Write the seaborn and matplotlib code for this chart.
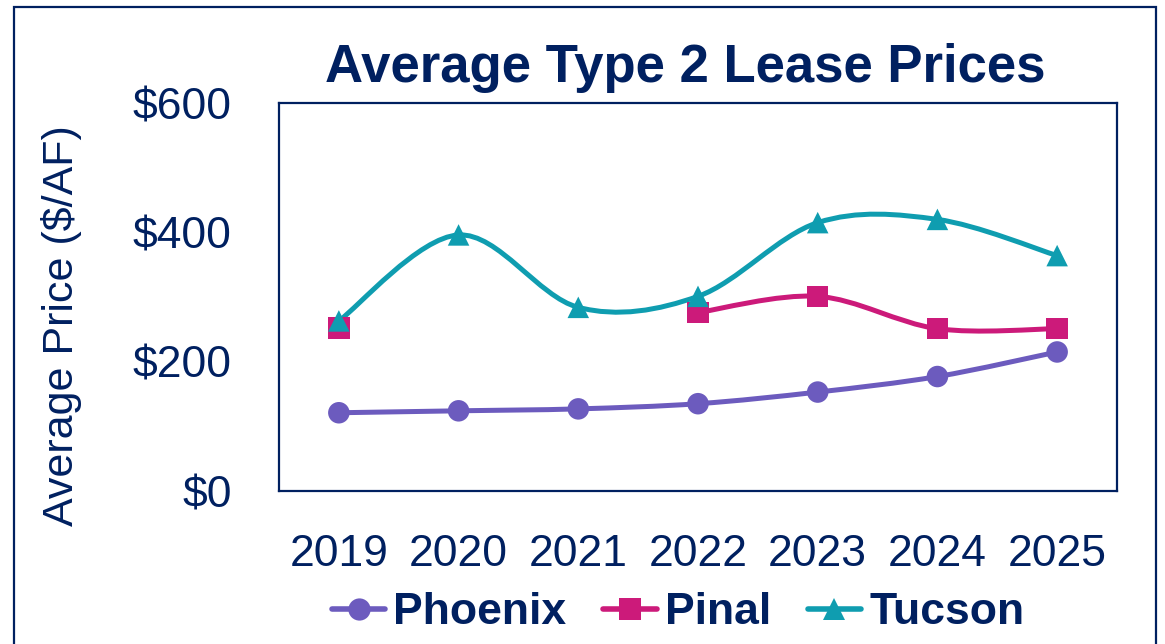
import numpy as np
import pandas as pd
import matplotlib
matplotlib.use("Agg")
import matplotlib.pyplot as plt
from matplotlib.path import Path
from matplotlib.patches import PathPatch, Rectangle
from matplotlib.lines import Line2D
import seaborn as sns

# data
years = [2019, 2020, 2021, 2022, 2023, 2024, 2025]
phoenix = [121, 124, 127, 135, 153, 177, 215]
pinal = [252, np.nan, np.nan, 276, 301, 251, 251]
tucson = [263, 396, 284, 301, 415, 420, 364]

regions = ["Phoenix", "Pinal", "Tucson"]
colors = {"Phoenix": "#6C5BBE", "Pinal": "#CC1A7A", "Tucson": "#0F9DB0"}
markers = {"Phoenix": "o", "Pinal": "s", "Tucson": "^"}
navy = "#002060"

df = pd.DataFrame({"Year": years, "Phoenix": phoenix, "Pinal": pinal, "Tucson": tucson})
long = df.melt(id_vars="Year", var_name="Region", value_name="Price").dropna()

sns.set_theme(style="white")
plt.rcParams["font.family"] = ["Liberation Sans", "DejaVu Sans"]

W, H = 1165, 644
fig = plt.figure(figsize=(W / 100, H / 100), dpi=100)
ax = fig.add_axes([279 / W, 1 - 491 / H, (1117 - 279) / W, (491 - 103) / H])


def smooth_path(xs, ys, t=1 / 6):
    # Excel-like smoothed line: cubic bezier through the points
    pts = np.column_stack([xs, ys]).astype(float)
    verts = [pts[0]]
    codes = [Path.MOVETO]
    n = len(pts)
    for i in range(n - 1):
        p0 = pts[i - 1] if i > 0 else pts[i]
        p1, p2 = pts[i], pts[i + 1]
        p3 = pts[i + 2] if i + 2 < n else pts[i + 1]
        c1 = p1 + (p2 - p0) * t
        c2 = p2 - (p3 - p1) * t
        verts += [c1, c2, p2]
        codes += [Path.CURVE4] * 3
    return Path(verts, codes)


for name in regions:
    sub = df[["Year", name]]
    ok = sub[name].notna().values
    # split into runs of consecutive values (Pinal has a gap)
    runs, cur = [], []
    for k, flag in enumerate(ok):
        if flag:
            cur.append(k)
        else:
            if cur:
                runs.append(cur)
            cur = []
    if cur:
        runs.append(cur)
    for r in runs:
        if len(r) < 2:
            continue
        p = smooth_path(sub["Year"].values[r], sub[name].values[r])
        ax.add_patch(PathPatch(p, fill=False, ec=colors[name], lw=3.6,
                               capstyle="round", joinstyle="round", zorder=2))

for name in regions:
    sns.scatterplot(data=long[long["Region"] == name], x="Year", y="Price",
                    color=colors[name], marker=markers[name], s=240,
                    edgecolor="none", legend=False, zorder=3, ax=ax)

ax.set_xlim(2018.5, 2025.5)
ax.set_ylim(0, 600)
ax.set_xticks(years)
ax.set_xticklabels([str(y) for y in years])
ax.set_yticks([0, 200, 400, 600])
ax.set_yticklabels(["$0", "$200", "$400", "$600"])
ax.set_xlabel("")
ax.set_ylabel("")
ax.tick_params(length=0, labelsize=32, colors=navy)
ax.tick_params(axis="y", pad=34)
ax.tick_params(axis="x", pad=31)
for s in ax.spines.values():
    s.set_visible(True)
    s.set_color(navy)
    s.set_linewidth(1.6)

fig.text(62 / W, 1 - 326 / H, "Average Price ($/AF)", rotation=90,
         ha="center", va="center", fontsize=31, color=navy)
fig.text(685 / W, 1 - 82 / H, "Average Type 2 Lease Prices", ha="center",
         va="baseline", fontsize=38, fontweight="bold", color=navy)

handles = [Line2D([], [], color=colors[n], lw=4, marker=markers[n],
                  markersize=16, markeredgewidth=0) for n in regions]
fig.legend(handles, regions, loc="center", bbox_to_anchor=(678 / W, 1 - 613 / H),
           ncol=3, frameon=False, handlelength=1.2, handletextpad=0.18,
           columnspacing=0.83, labelcolor=navy,
           prop={"weight": "bold", "size": 32})

fig.patches.append(Rectangle((14 / W, -0.05), (1156 - 14) / W, 1.05 - 7 / H,
                             transform=fig.transFigure, fill=False, ec=navy,
                             lw=1.6, clip_on=False))

fig.savefig("out.png", dpi=100)
